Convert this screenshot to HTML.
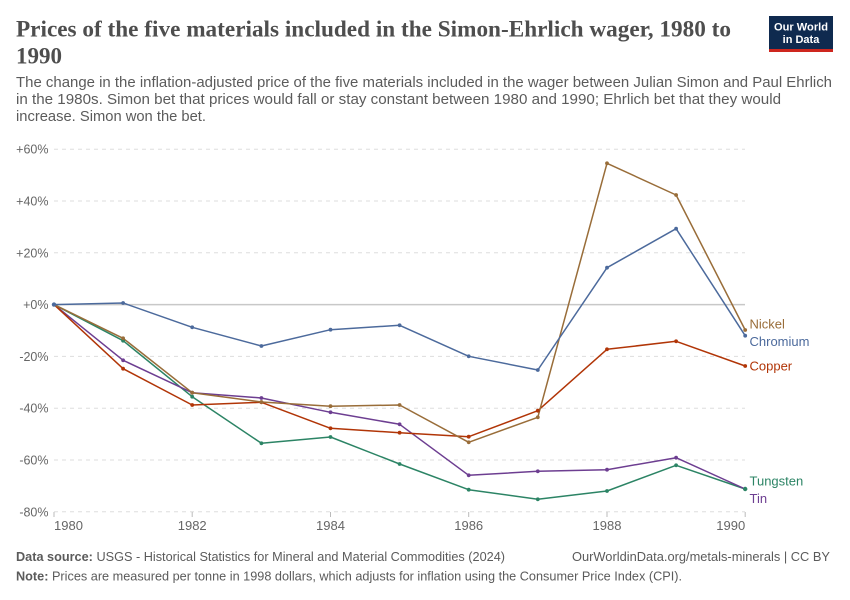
<!DOCTYPE html>
<html>
<head>
<meta charset="utf-8">
<style>
  html,body{margin:0;padding:0;background:#fff;}
  svg{display:block;}
  text{font-family:"Liberation Sans",sans-serif;}
</style>
</head>
<body>
<svg width="850" height="600" viewBox="0 0 850 600" xmlns="http://www.w3.org/2000/svg">
  <rect width="850" height="600" fill="#fff"/>

  <!-- Title -->
  <text x="16" y="36.7" font-family="Liberation Serif, serif" font-weight="bold" font-size="23" fill="#4e4e4e" textLength="715" lengthAdjust="spacingAndGlyphs" style="font-family:'Liberation Serif',serif">Prices of the five materials included in the Simon-Ehrlich wager, 1980 to</text>
  <text x="16" y="63.3" font-weight="bold" font-size="23" fill="#4e4e4e" style="font-family:'Liberation Serif',serif">1990</text>

  <!-- Logo -->
  <rect x="769" y="16" width="64" height="36" fill="#0f2a4f"/>
  <rect x="769" y="49" width="64" height="3" fill="#ce261e"/>
  <text x="801" y="30.5" font-size="11" fill="#fff" text-anchor="middle" font-weight="bold" textLength="54" lengthAdjust="spacingAndGlyphs">Our World</text>
  <text x="801" y="43" font-size="11" fill="#fff" text-anchor="middle" font-weight="bold">in Data</text>

  <!-- Subtitle -->
  <g font-size="14.5" fill="#5b5b5b">
    <text x="16" y="87" textLength="816" lengthAdjust="spacingAndGlyphs">The change in the inflation-adjusted price of the five materials included in the wager between Julian Simon and Paul Ehrlich</text>
    <text x="16" y="104" textLength="765" lengthAdjust="spacingAndGlyphs">in the 1980s. Simon bet that prices would fall or stay constant between 1980 and 1990; Ehrlich bet that they would</text>
    <text x="16" y="121" textLength="190" lengthAdjust="spacingAndGlyphs">increase. Simon won the bet.</text>
  </g>

  <!-- Gridlines -->
  <g stroke="#dddddd" stroke-width="1" stroke-dasharray="4,4">
    <line x1="54" y1="149.2" x2="745" y2="149.2"/>
    <line x1="54" y1="201" x2="745" y2="201"/>
    <line x1="54" y1="252.8" x2="745" y2="252.8"/>
    <line x1="54" y1="356.4" x2="745" y2="356.4"/>
    <line x1="54" y1="408.2" x2="745" y2="408.2"/>
    <line x1="54" y1="460" x2="745" y2="460"/>
    <line x1="54" y1="511.8" x2="745" y2="511.8"/>
  </g>
  <line x1="54" y1="304.6" x2="745" y2="304.6" stroke="#c8c8c8" stroke-width="1.5"/>

  <!-- Y labels -->
  <g font-size="12.5" fill="#666" text-anchor="end">
    <text x="48.5" y="153.7">+60%</text>
    <text x="48.5" y="205.5">+40%</text>
    <text x="48.5" y="257.3">+20%</text>
    <text x="48.5" y="309.1">+0%</text>
    <text x="48.5" y="360.9">-20%</text>
    <text x="48.5" y="412.7">-40%</text>
    <text x="48.5" y="464.5">-60%</text>
    <text x="48.5" y="516.3">-80%</text>
  </g>

  <!-- X ticks -->
  <g stroke="#bbb" stroke-width="1">
    <line x1="54" y1="512" x2="54" y2="517"/>
    <line x1="192.2" y1="512" x2="192.2" y2="517"/>
    <line x1="330.5" y1="512" x2="330.5" y2="517"/>
    <line x1="468.7" y1="512" x2="468.7" y2="517"/>
    <line x1="607" y1="512" x2="607" y2="517"/>
    <line x1="745.2" y1="512" x2="745.2" y2="517"/>
  </g>
  <g font-size="13" fill="#666">
    <text x="54" y="530">1980</text>
    <text x="192.2" y="530" text-anchor="middle">1982</text>
    <text x="330.5" y="530" text-anchor="middle">1984</text>
    <text x="468.7" y="530" text-anchor="middle">1986</text>
    <text x="607" y="530" text-anchor="middle">1988</text>
    <text x="745.2" y="530" text-anchor="end">1990</text>
  </g>

  <!-- Series -->
  <g fill="none" stroke-width="1.5" stroke-linejoin="round">
    <polyline stroke="#2c8465" points="54,304.6 123.1,340.7 192.2,396.7 261.4,443.3 330.5,437 399.6,464 468.7,489.7 537.8,499.3 607,491 676.1,465.3 745.2,489"/>
    <polyline stroke="#6d3e91" points="54,304.6 123.1,360.3 192.2,392.7 261.4,398 330.5,412.3 399.6,424.3 468.7,475.3 537.8,471.3 607,469.7 676.1,457.7 745.2,489"/>
    <polyline stroke="#b13507" points="54,304.6 123.1,368.7 192.2,405 261.4,402.3 330.5,428.3 399.6,432.7 468.7,436.7 537.8,410.7 607,349.3 676.1,341.3 745.2,366"/>
    <polyline stroke="#996d39" points="54,304.6 123.1,338.3 192.2,392.7 261.4,402 330.5,406.2 399.6,405 468.7,442.3 537.8,417.3 607,163.3 676.1,195 745.2,330"/>
    <polyline stroke="#4c6a9c" points="54,304.6 123.1,303 192.2,327.3 261.4,346 330.5,329.7 399.6,325.3 468.7,356.3 537.8,370 607,267.7 676.1,228.7 745.2,335.7"/>
  </g>
  <!-- Markers -->
  <g fill="#2c8465">
    <circle cx="123.1" cy="340.7" r="1.9"/><circle cx="192.2" cy="396.7" r="1.9"/><circle cx="261.4" cy="443.3" r="1.9"/><circle cx="330.5" cy="437" r="1.9"/><circle cx="399.6" cy="464" r="1.9"/><circle cx="468.7" cy="489.7" r="1.9"/><circle cx="537.8" cy="499.3" r="1.9"/><circle cx="607" cy="491" r="1.9"/><circle cx="676.1" cy="465.3" r="1.9"/><circle cx="745.2" cy="489" r="2.2"/>
  </g>
  <g fill="#6d3e91">
    <circle cx="123.1" cy="360.3" r="1.9"/><circle cx="192.2" cy="392.7" r="1.9"/><circle cx="261.4" cy="398" r="1.9"/><circle cx="330.5" cy="412.3" r="1.9"/><circle cx="399.6" cy="424.3" r="1.9"/><circle cx="468.7" cy="475.3" r="1.9"/><circle cx="537.8" cy="471.3" r="1.9"/><circle cx="607" cy="469.7" r="1.9"/><circle cx="676.1" cy="457.7" r="1.9"/>
  </g>
  <g fill="#b13507">
    <circle cx="123.1" cy="368.7" r="1.9"/><circle cx="192.2" cy="405" r="1.9"/><circle cx="261.4" cy="402.3" r="1.9"/><circle cx="330.5" cy="428.3" r="1.9"/><circle cx="399.6" cy="432.7" r="1.9"/><circle cx="468.7" cy="436.7" r="1.9"/><circle cx="537.8" cy="410.7" r="1.9"/><circle cx="607" cy="349.3" r="1.9"/><circle cx="676.1" cy="341.3" r="1.9"/><circle cx="745.2" cy="366" r="1.9"/>
  </g>
  <g fill="#996d39">
    <circle cx="123.1" cy="338.3" r="1.9"/><circle cx="192.2" cy="392.7" r="1.9"/><circle cx="261.4" cy="402" r="1.9"/><circle cx="330.5" cy="406.2" r="1.9"/><circle cx="399.6" cy="405" r="1.9"/><circle cx="468.7" cy="442.3" r="1.9"/><circle cx="537.8" cy="417.3" r="1.9"/><circle cx="607" cy="163.3" r="1.9"/><circle cx="676.1" cy="195" r="1.9"/><circle cx="745.2" cy="330" r="1.9"/>
  </g>
  <g fill="#4c6a9c">
    <circle cx="54" cy="304.6" r="2.2"/>
    <circle cx="123.1" cy="303" r="1.9"/><circle cx="192.2" cy="327.3" r="1.9"/><circle cx="261.4" cy="346" r="1.9"/><circle cx="330.5" cy="329.7" r="1.9"/><circle cx="399.6" cy="325.3" r="1.9"/><circle cx="468.7" cy="356.3" r="1.9"/><circle cx="537.8" cy="370" r="1.9"/><circle cx="607" cy="267.7" r="1.9"/><circle cx="676.1" cy="228.7" r="1.9"/><circle cx="745.2" cy="335.7" r="1.9"/>
  </g>

  <!-- Series labels -->
  <g font-size="13">
    <text x="749.5" y="328.5" fill="#996d39">Nickel</text>
    <text x="749.5" y="346" fill="#4c6a9c">Chromium</text>
    <text x="749.5" y="370.5" fill="#b13507">Copper</text>
    <text x="749.5" y="485.5" fill="#2c8465">Tungsten</text>
    <text x="749.5" y="503" fill="#6d3e91">Tin</text>
  </g>

  <!-- Footer -->
  <g font-size="12.5" fill="#5b5b5b">
    <text x="16" y="561" textLength="489" lengthAdjust="spacingAndGlyphs"><tspan font-weight="bold">Data source:</tspan> USGS - Historical Statistics for Mineral and Material Commodities (2024)</text>
    <text x="16" y="580.5" textLength="666" lengthAdjust="spacingAndGlyphs"><tspan font-weight="bold">Note:</tspan> Prices are measured per tonne in 1998 dollars, which adjusts for inflation using the Consumer Price Index (CPI).</text>
    <text x="830" y="561" text-anchor="end" textLength="258" lengthAdjust="spacingAndGlyphs">OurWorldinData.org/metals-minerals | CC BY</text>
  </g>
</svg>
</body>
</html>
